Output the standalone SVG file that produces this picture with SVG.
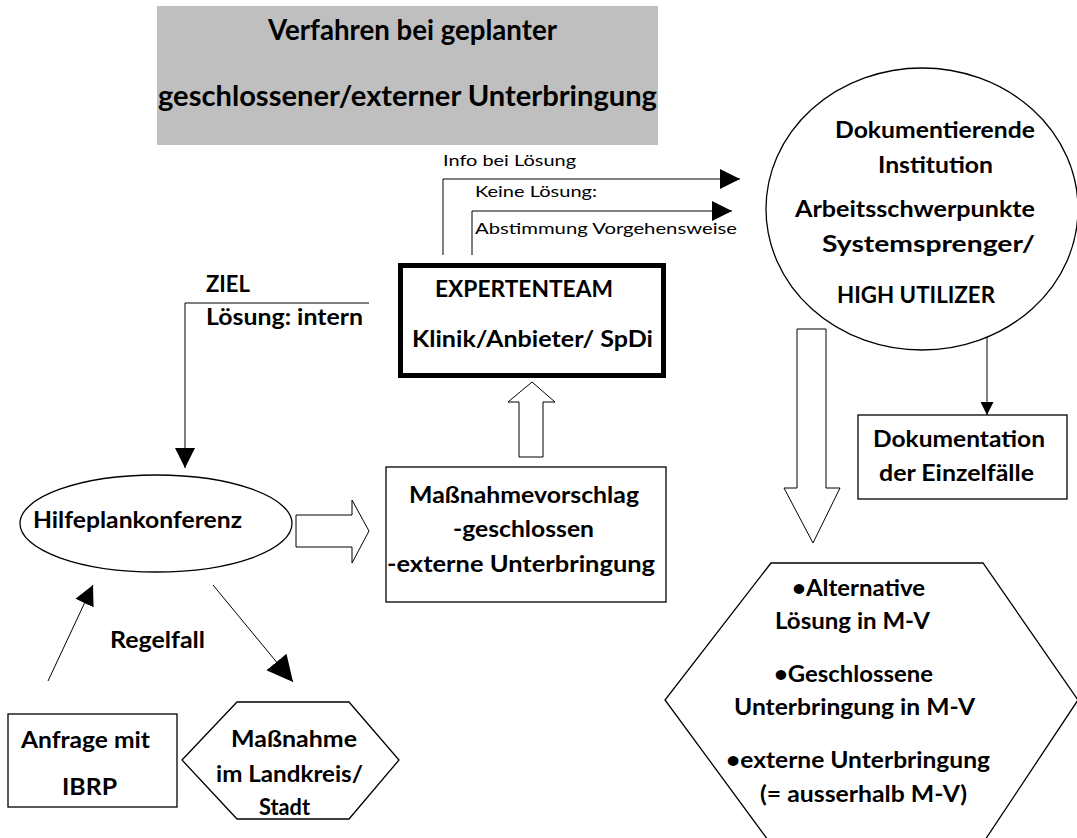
<svg xmlns="http://www.w3.org/2000/svg" width="1077" height="838" viewBox="0 0 1077 838">
<style>
.b{font-family:Lato,"Open Sans","Noto Sans",sans-serif;font-weight:bold;font-size:22px;fill:#000}
.r{font-family:Lato,"Open Sans","Noto Sans",sans-serif;font-weight:normal;font-size:16px;fill:#000}
.t{font-family:Lato,"Open Sans","Noto Sans",sans-serif;font-weight:bold;font-size:29px;fill:#000}
.sh{fill:#fff;stroke:#000;stroke-width:1.3}
.ln{fill:none;stroke:#000;stroke-width:1}
.blk{fill:#fff;stroke:#000;stroke-width:1}
</style>
<defs>
<marker id="a20" viewBox="0 0 10 10" refX="10" refY="5" markerUnits="userSpaceOnUse" markerWidth="20" markerHeight="21" orient="auto"><path d="M0,0 L10,5 L0,10 z" fill="#000"/></marker>
<marker id="a26" viewBox="0 0 10 10" refX="10" refY="5" markerUnits="userSpaceOnUse" markerWidth="26" markerHeight="28" orient="auto"><path d="M0,0 L10,5 L0,10 z" fill="#000"/></marker>
<marker id="a14" viewBox="0 0 10 10" refX="10" refY="5" markerUnits="userSpaceOnUse" markerWidth="15" markerHeight="13" orient="auto"><path d="M0,0 L10,5 L0,10 z" fill="#000"/></marker>
</defs>
<rect width="1077" height="838" fill="#fff"/>

<g id="title">
<rect x="157" y="6" width="501" height="139" fill="#bfbfbf"/>
<text class="t" x="268" y="40" textLength="289" lengthAdjust="spacingAndGlyphs">Verfahren bei geplanter</text>
<text class="t" x="158" y="106" textLength="499" lengthAdjust="spacingAndGlyphs">geschlossener/externer Unterbringung</text>
</g>

<g id="connectors">
<path class="ln" d="M443,255 V179 H740" marker-end="url(#a20)"/>
<path class="ln" d="M472,255 V211 H732" marker-end="url(#a20)"/>
<path class="ln" d="M369,303 H185 V468" marker-end="url(#a20)"/>
<path class="ln" d="M48,681 L93,585" marker-end="url(#a20)"/>
<path class="ln" d="M213,585 L293,682" marker-end="url(#a26)"/>
<path class="ln" d="M987,337 V415" marker-end="url(#a14)"/>
<polygon class="blk" points="296,515 352,515 352,500 369,531 352,563 352,547 296,547"/>
<polygon class="blk" points="519,457 519,402 508,402 532,382 555,402 543,402 543,457"/>
<polygon class="blk" points="797,329 826,329 826,488 840,488 813,543 784,488 797,488"/>
<text class="r" x="443" y="166" textLength="133" lengthAdjust="spacingAndGlyphs">Info bei Lösung</text>
<text class="r" x="475" y="197" textLength="122" lengthAdjust="spacingAndGlyphs">Keine Lösung:</text>
<text class="r" x="475" y="234" textLength="262" lengthAdjust="spacingAndGlyphs">Abstimmung Vorgehensweise</text>
<text class="b" x="206" y="292" font-size="19" textLength="44" lengthAdjust="spacingAndGlyphs">ZIEL</text>
<text class="b" x="206" y="325" textLength="157" lengthAdjust="spacingAndGlyphs">Lösung: intern</text>
<text class="b" x="110" y="648" textLength="95" lengthAdjust="spacingAndGlyphs">Regelfall</text>
</g>

<g id="expertenteam">
<rect x="400.5" y="265.5" width="263" height="110" fill="#fff" stroke="#000" stroke-width="5"/>
<text class="b" x="435" y="297" font-size="19" textLength="178" lengthAdjust="spacingAndGlyphs">EXPERTENTEAM</text>
<text class="b" x="412" y="347" textLength="241" lengthAdjust="spacingAndGlyphs">Klinik/Anbieter/  SpDi</text>
</g>

<g id="hilfeplankonferenz">
<ellipse class="sh" cx="156" cy="523.5" rx="136" ry="48.5"/>
<text class="b" x="33" y="528" textLength="209" lengthAdjust="spacingAndGlyphs">Hilfeplankonferenz</text>
</g>

<g id="massnahmevorschlag">
<rect class="sh" x="386" y="467" width="280" height="135"/>
<text class="b" x="409" y="503" textLength="230" lengthAdjust="spacingAndGlyphs">Maßnahmevorschlag</text>
<text class="b" x="453" y="537" textLength="141" lengthAdjust="spacingAndGlyphs">-geschlossen</text>
<text class="b" x="387" y="572" textLength="268" lengthAdjust="spacingAndGlyphs">-externe Unterbringung</text>
</g>

<g id="anfrage">
<rect class="sh" x="8" y="714" width="169" height="93"/>
<text class="b" x="21" y="748" textLength="129" lengthAdjust="spacingAndGlyphs">Anfrage mit</text>
<text class="b" x="62" y="795" textLength="55" lengthAdjust="spacingAndGlyphs">IBRP</text>
</g>

<g id="massnahme">
<polygon class="sh" points="182,760 237,702 349,702 399,760 349,819 237,819"/>
<text class="b" x="231" y="747" textLength="126" lengthAdjust="spacingAndGlyphs">Maßnahme</text>
<text class="b" x="216" y="782" textLength="147" lengthAdjust="spacingAndGlyphs">im Landkreis/</text>
<text class="b" x="259" y="815" textLength="51" lengthAdjust="spacingAndGlyphs">Stadt</text>
</g>

<g id="dokumentierende">
<ellipse class="sh" cx="922" cy="209" rx="156" ry="141"/>
<text class="b" x="835" y="138" textLength="200" lengthAdjust="spacingAndGlyphs">Dokumentierende</text>
<text class="b" x="878" y="173" textLength="115" lengthAdjust="spacingAndGlyphs">Institution</text>
<text class="b" x="795" y="217" textLength="240" lengthAdjust="spacingAndGlyphs">Arbeitsschwerpunkte</text>
<text class="b" x="822" y="252" font-size="23" textLength="213" lengthAdjust="spacingAndGlyphs">Systemsprenger/</text>
<text class="b" x="837" y="303" textLength="158" lengthAdjust="spacingAndGlyphs">HIGH UTILIZER</text>
</g>

<g id="dokumentation">
<rect class="sh" x="858" y="415" width="209" height="84"/>
<text class="b" x="873" y="447" textLength="172" lengthAdjust="spacingAndGlyphs">Dokumentation</text>
<text class="b" x="879" y="481" textLength="155" lengthAdjust="spacingAndGlyphs">der Einzelfälle</text>
</g>

<g id="loesungen">
<polygon class="sh" points="771,563 983,563 1078,700 985,840 768,840 665,700"/>
<text class="b" x="792" y="596" textLength="133" lengthAdjust="spacingAndGlyphs">•Alternative</text>
<text class="b" x="775" y="629" textLength="155" lengthAdjust="spacingAndGlyphs">Lösung in M-V</text>
<text class="b" x="774" y="682" textLength="159" lengthAdjust="spacingAndGlyphs">•Geschlossene</text>
<text class="b" x="734" y="715" textLength="241" lengthAdjust="spacingAndGlyphs">Unterbringung in M-V</text>
<text class="b" x="726" y="768" textLength="264" lengthAdjust="spacingAndGlyphs">•externe Unterbringung</text>
<text class="b" x="760" y="802" textLength="207" lengthAdjust="spacingAndGlyphs">(= ausserhalb M-V)</text>
</g>
</svg>
